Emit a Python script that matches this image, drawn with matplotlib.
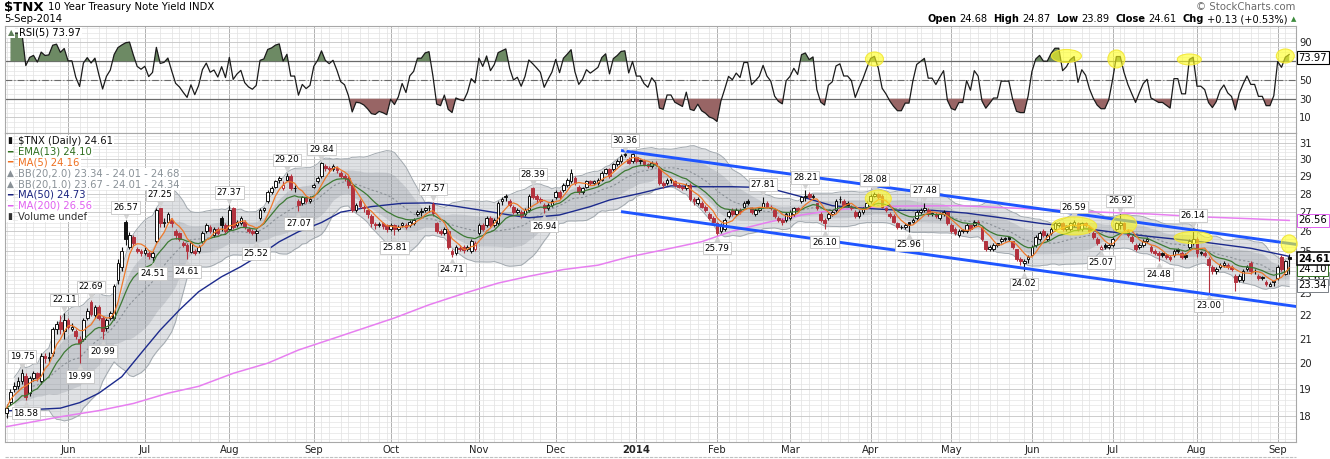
import numpy as np
import pandas as pd
import matplotlib
matplotlib.use("Agg")
import matplotlib.pyplot as plt
from matplotlib.patches import Ellipse
from matplotlib.lines import Line2D
from matplotlib.transforms import ScaledTranslation
from matplotlib.ticker import FixedLocator, FuncFormatter, NullFormatter, FixedFormatter

plt.rcParams['font.family'] = ['DejaVu Sans']

# trading days shown on the chart
holidays = ['2013-05-27', '2013-07-04', '2013-09-02', '2013-11-28', '2013-12-25',
            '2014-01-01', '2014-01-20', '2014-02-17', '2014-04-18', '2014-05-26',
            '2014-07-04', '2014-09-01']
days = pd.bdate_range('2013-05-09', '2014-09-05')
days = days[~days.isin(pd.to_datetime(holidays))]

# daily candles of $TNX (one row per month)
opens = [
    18.1, 18.5, 19.0, 19.1, 19.3, 19.5, 18.85, 19.4, 19.6, 19.3, 20.3, 20.2, 20.4, 21.4, 21.7, 21.3,
    21.8, 21.4, 21.3, 21.0, 21.0, 21.9, 22.6, 22.0, 22.35, 21.9, 21.45, 21.9, 21.9, 23.6, 24.2, 26.5, 25.2, 25.7, 25.1, 25.0,
    24.9, 24.9, 24.7, 25.5, 27.2, 26.4, 26.5, 26.6, 26.0, 25.9, 25.4, 25.3, 24.95, 25.0, 25.0, 25.5, 26.0, 26.2, 25.8, 26.1, 26.7, 26.3,
    26.1, 27.2, 26.3, 26.4, 26.5, 26.1, 26.0, 25.9, 26.7, 27.1, 27.6, 28.1, 28.4, 28.8, 28.3, 28.8, 29.0, 28.3, 27.6, 27.5, 27.8, 27.6,
    28.4, 28.7, 29.0, 29.6, 29.5, 29.4, 29.5, 29.2, 29.0, 28.9, 28.5, 27.1, 27.6, 27.3, 27.1, 26.8, 26.35, 26.3, 26.4, 26.3,
    26.1, 26.3, 26.1, 26.3, 26.3, 26.3, 26.4, 26.9, 27.0, 27.1, 27.2, 27.45, 26.4, 26.0, 25.9, 26.0, 25.0, 24.9, 25.15, 25.2, 25.1, 25.0, 25.1,
    25.9, 26.3, 26.3, 26.7, 26.3, 26.4, 27.6, 27.8, 27.6, 27.3, 27.0, 27.0, 26.9, 27.1, 28.3, 27.9, 27.7, 27.4, 27.2, 27.4,
    27.8, 28.1, 28.2, 28.5, 28.7, 28.9, 28.4, 28.1, 28.4, 28.7, 28.6, 28.6, 28.8, 29.2, 29.4, 29.4, 29.7, 29.9, 30.3, 30.0, 29.9,
    30.1, 29.9, 29.9, 29.7, 29.6, 29.8, 29.5, 28.6, 28.6, 28.8, 28.7, 28.5, 28.4, 28.3, 28.5, 27.7, 27.5, 27.5, 27.3, 26.9, 26.7,
    26.4, 26.0, 26.1, 26.8, 27.1, 26.9, 27.1, 27.3, 27.6, 27.2, 26.9, 27.1, 27.3, 27.5, 27.3, 27.1, 26.7, 26.6, 26.6,
    26.7, 26.9, 27.2, 27.6, 27.8, 28.0, 27.8, 27.5, 26.9, 26.6, 26.7, 26.9, 27.1, 27.7, 27.6, 27.5, 27.2, 27.0, 26.8, 27.0, 27.3,
    27.6, 27.9, 28.0, 27.9, 27.2, 26.9, 26.8, 26.4, 26.2, 26.2, 26.5, 26.5, 26.7, 27.0, 27.1, 27.1, 26.9, 26.9, 26.7, 26.9, 27.0,
    26.3, 26.1, 25.8, 26.0, 26.0, 26.3, 26.3, 26.5, 26.2, 25.5, 25.1, 25.1, 25.4, 25.5, 25.6, 25.7, 25.5, 25.1, 24.6, 24.4, 24.6,
    24.8, 25.3, 25.6, 26.0, 25.6, 25.9, 26.1, 26.3, 26.4, 26.1, 26.1, 26.3, 26.4, 26.1, 26.4, 26.2, 25.9, 25.6, 25.1, 25.3, 25.2,
    25.3, 26.1, 26.3, 26.4, 26.0, 25.7, 25.3, 25.2, 25.3, 25.5, 25.2, 25.0, 24.9, 24.9, 24.8, 24.7, 24.8, 25.1, 24.9, 24.8, 25.2, 25.4,
    25.6, 24.9, 24.9, 24.6, 24.2, 24.0, 24.2, 24.3, 24.3, 24.2, 23.8, 23.6, 23.6, 24.1, 24.4, 24.0, 23.8, 23.7, 23.5, 23.3, 23.5,
    23.7, 24.7, 23.9, 24.68,
]
highs = [
    18.45, 19.0, 19.25, 19.45, 19.75, 19.6, 19.5, 19.7, 19.65, 20.4, 20.4, 20.45, 21.5, 21.75, 22.0, 22.11,
    21.9, 21.65, 21.4, 21.1, 21.9, 22.3, 22.69, 22.45, 22.45, 21.95, 21.9, 22.2, 23.4, 24.6, 25.2, 26.57, 25.95, 25.8, 25.2, 25.1,
    25.2, 25.0, 25.0, 27.2, 27.25, 26.7, 27.0, 26.7, 26.1, 25.95, 25.5, 25.4, 25.5, 25.1, 25.3, 26.0, 26.4, 26.3, 26.2, 26.2, 26.8, 26.4,
    27.37, 27.3, 26.6, 26.8, 26.6, 26.2, 26.1, 26.1, 27.2, 27.3, 28.2, 28.45, 28.8, 29.0, 28.7, 29.2, 29.1, 28.5, 27.7, 27.9, 27.9, 27.9,
    28.6, 29.0, 29.84, 29.7, 29.6, 29.7, 29.6, 29.3, 29.1, 29.0, 28.6, 27.5, 27.7, 27.4, 27.2, 26.9, 26.5, 26.5, 26.5, 26.35,
    26.4, 26.35, 26.3, 26.5, 26.4, 26.6, 26.7, 27.1, 27.2, 27.3, 27.4, 27.57, 26.5, 26.1, 26.2, 26.1, 25.1, 25.3, 25.3, 25.3, 25.3, 25.6, 25.5,
    26.4, 26.4, 26.8, 26.8, 26.7, 27.6, 27.8, 28.0, 27.7, 27.4, 27.2, 27.1, 27.2, 28.0, 28.39, 28.0, 27.8, 27.5, 27.5, 27.7,
    28.2, 28.2, 28.6, 28.9, 29.4, 29.0, 28.5, 28.4, 28.8, 28.8, 28.8, 28.9, 29.3, 29.5, 29.5, 29.8, 30.0, 30.3, 30.36, 30.1, 30.35,
    30.2, 30.0, 30.0, 29.8, 29.9, 29.9, 29.6, 28.7, 28.9, 28.9, 28.8, 28.6, 28.5, 28.6, 28.6, 27.8, 27.8, 27.6, 27.4, 27.0, 26.8,
    26.5, 26.4, 26.7, 27.1, 27.2, 27.2, 27.2, 27.6, 27.7, 27.3, 27.2, 27.3, 27.81, 27.6, 27.4, 27.2, 26.8, 26.7, 27.0,
    27.1, 27.3, 27.3, 27.9, 28.21, 28.1, 28.0, 27.5, 27.0, 26.7, 27.0, 27.1, 27.7, 27.9, 27.7, 27.6, 27.4, 27.1, 27.1, 27.3, 27.6,
    28.0, 28.08, 28.05, 28.0, 27.3, 27.0, 26.9, 26.5, 26.3, 26.4, 26.5, 26.7, 27.1, 27.2, 27.48, 27.2, 27.0, 27.0, 27.0, 27.1, 27.0,
    26.4, 26.2, 26.1, 26.1, 26.4, 26.3, 26.6, 26.6, 26.2, 25.5, 25.3, 25.4, 25.4, 25.7, 25.7, 25.7, 25.5, 25.1, 24.7, 24.6, 24.8,
    25.3, 25.8, 26.0, 26.1, 25.9, 26.2, 26.5, 26.5, 26.5, 26.3, 26.5, 26.59, 26.5, 26.5, 26.5, 26.3, 26.0, 25.7, 25.3, 25.4, 25.4,
    25.7, 26.5, 26.92, 26.5, 26.1, 25.8, 25.4, 25.4, 25.6, 25.7, 25.3, 25.1, 25.0, 24.95, 24.9, 24.8, 25.1, 25.15, 25.0, 24.9, 25.6, 26.14,
    25.7, 25.0, 25.0, 24.7, 24.3, 24.2, 24.4, 24.5, 24.4, 24.3, 23.9, 23.9, 24.1, 24.3, 24.5, 24.1, 23.9, 23.8, 23.6, 23.5, 23.6,
    24.3, 24.8, 24.55, 24.87,
]
lows = [
    17.95, 18.4, 18.9, 19.0, 19.2, 18.58, 18.75, 19.3, 19.3, 19.2, 20.0, 20.05, 20.3, 21.2, 21.2, 21.0,
    21.4, 21.3, 21.0, 19.99, 20.9, 21.8, 21.95, 21.9, 21.8, 20.99, 21.3, 21.8, 21.8, 23.4, 24.0, 25.3, 25.1, 25.25, 24.9, 24.75,
    24.8, 24.6, 24.51, 25.4, 26.2, 26.2, 26.4, 26.2, 25.6, 25.5, 25.2, 24.61, 24.9, 24.8, 24.9, 25.4, 25.9, 25.9, 25.7, 25.8, 26.0, 25.9,
    26.0, 26.1, 26.2, 26.3, 26.1, 25.9, 25.8, 25.52, 26.6, 27.0, 27.5, 28.0, 28.3, 28.6, 28.2, 28.7, 28.2, 28.1, 27.07, 27.4, 27.5, 27.5,
    28.3, 28.6, 28.9, 29.3, 29.2, 29.3, 29.2, 28.9, 28.7, 28.3, 27.0, 27.0, 27.2, 27.0, 26.7, 26.2, 26.1, 26.2, 26.1, 25.95,
    26.0, 25.81, 26.0, 26.2, 26.1, 26.2, 26.3, 26.8, 26.8, 27.0, 27.0, 26.8, 25.9, 25.8, 25.8, 25.1, 24.71, 24.8, 25.0, 24.9, 25.0, 24.9, 25.0,
    25.8, 26.0, 26.2, 26.2, 26.2, 26.3, 27.4, 27.6, 27.3, 26.9, 26.9, 26.7, 26.8, 27.0, 27.7, 27.5, 27.5, 26.94, 27.1, 27.3,
    27.7, 27.7, 28.1, 28.4, 28.6, 28.5, 28.0, 28.0, 28.3, 28.5, 28.5, 28.5, 28.7, 29.1, 28.9, 29.3, 29.6, 29.8, 30.1, 29.7, 29.8,
    29.8, 29.7, 29.6, 29.5, 29.5, 29.6, 28.5, 28.3, 28.5, 28.6, 28.4, 28.3, 28.2, 28.2, 27.6, 27.4, 27.4, 27.2, 27.0, 26.6, 26.4,
    25.79, 25.9, 26.0, 26.7, 26.8, 26.8, 26.9, 27.2, 27.4, 26.9, 26.8, 27.0, 27.2, 27.2, 27.1, 26.7, 26.5, 26.3, 26.5,
    26.6, 26.8, 27.0, 27.5, 27.6, 27.7, 27.7, 27.1, 26.5, 26.10, 26.6, 26.8, 27.0, 27.5, 27.3, 27.3, 27.1, 26.7, 26.7, 26.9, 27.2,
    27.5, 27.8, 27.7, 27.2, 27.0, 26.7, 26.4, 26.1, 26.1, 26.1, 25.96, 26.4, 26.6, 26.9, 27.0, 26.8, 26.8, 26.7, 26.6, 26.8, 26.3,
    25.9, 25.8, 25.7, 25.9, 25.9, 26.0, 26.2, 26.3, 25.5, 25.0, 25.0, 25.0, 25.2, 25.4, 25.5, 25.5, 25.1, 24.5, 24.3, 24.02, 24.4,
    24.8, 25.2, 25.5, 25.7, 25.5, 25.8, 26.0, 26.2, 26.0, 26.0, 26.0, 26.2, 26.0, 26.0, 26.2, 25.9, 25.6, 25.3, 25.07, 25.1, 25.1,
    25.2, 26.0, 26.1, 26.0, 25.7, 25.4, 25.0, 25.1, 25.2, 25.4, 24.9, 24.8, 24.48, 24.7, 24.6, 24.5, 24.7, 24.9, 24.6, 24.6, 25.1, 25.3,
    24.7, 24.8, 24.7, 23.00, 23.9, 23.9, 24.1, 24.2, 24.1, 24.0, 23.1, 23.5, 23.5, 24.0, 23.9, 23.9, 23.6, 23.6, 23.3, 23.3, 23.3,
    23.6, 24.0, 23.85, 23.89,
]
closes = [
    18.3, 18.9, 19.1, 19.3, 19.6, 18.7, 19.4, 19.6, 19.4, 20.3, 20.2, 20.25, 21.4, 21.6, 21.4, 21.8,
    21.5, 21.5, 21.1, 20.8, 21.8, 22.2, 22.05, 22.35, 21.9, 21.3, 21.8, 22.1, 23.3, 24.4, 25.0, 25.6, 25.8, 25.4, 25.0, 24.9,
    25.05, 24.75, 24.9, 27.1, 26.4, 26.5, 26.9, 26.4, 25.8, 25.6, 25.3, 25.0, 25.4, 24.9, 25.2, 25.9, 26.3, 26.0, 26.1, 25.9, 26.3, 26.0,
    27.1, 26.2, 26.5, 26.7, 26.2, 26.0, 25.9, 26.0, 27.1, 27.2, 28.1, 28.3, 28.7, 28.9, 28.5, 29.0, 28.3, 28.3, 27.4, 27.8, 27.6, 27.7,
    28.5, 28.9, 29.8, 29.5, 29.4, 29.6, 29.35, 29.0, 28.9, 28.5, 27.1, 27.4, 27.35, 27.2, 26.9, 26.4, 26.3, 26.35, 26.25, 26.1,
    26.3, 26.1, 26.2, 26.4, 26.2, 26.5, 26.6, 27.0, 27.0, 27.2, 27.25, 26.95, 26.0, 25.9, 26.1, 25.2, 24.85, 25.2, 25.1, 25.05, 25.2, 25.5, 25.4,
    26.3, 26.1, 26.7, 26.3, 26.6, 27.5, 27.7, 27.9, 27.4, 27.0, 27.1, 26.8, 27.1, 27.9, 27.8, 27.7, 27.6, 27.2, 27.4, 27.6,
    28.1, 27.8, 28.5, 28.8, 29.2, 28.6, 28.1, 28.3, 28.7, 28.6, 28.7, 28.8, 29.2, 29.4, 29.0, 29.7, 29.9, 30.2, 30.25, 29.8, 30.3,
    29.9, 29.9, 29.7, 29.6, 29.8, 29.7, 28.6, 28.5, 28.8, 28.8, 28.5, 28.4, 28.3, 28.5, 27.7, 27.6, 27.7, 27.3, 27.1, 26.7, 26.5,
    25.9, 26.3, 26.6, 27.0, 26.9, 27.1, 27.0, 27.5, 27.5, 27.0, 27.1, 27.2, 27.5, 27.3, 27.2, 26.8, 26.6, 26.5, 26.9,
    27.0, 27.2, 27.1, 27.8, 27.9, 27.8, 27.9, 27.2, 26.6, 26.4, 26.9, 27.0, 27.6, 27.7, 27.4, 27.4, 27.3, 26.8, 27.0, 27.2, 27.5,
    27.9, 28.0, 27.8, 27.3, 27.1, 26.8, 26.5, 26.2, 26.2, 26.3, 26.3, 26.6, 27.0, 27.1, 27.2, 26.9, 26.9, 26.8, 26.9, 27.0, 26.4,
    26.0, 25.9, 26.0, 26.0, 26.3, 26.1, 26.5, 26.4, 25.6, 25.1, 25.2, 25.3, 25.3, 25.6, 25.6, 25.6, 25.2, 24.6, 24.5, 24.5, 24.7,
    25.2, 25.7, 25.9, 25.8, 25.8, 26.1, 26.4, 26.4, 26.1, 26.2, 26.4, 26.5, 26.1, 26.4, 26.3, 26.0, 25.7, 25.4, 25.2, 25.2, 25.3,
    25.6, 26.4, 26.4, 26.1, 25.8, 25.5, 25.1, 25.3, 25.5, 25.6, 25.0, 24.9, 24.8, 24.8, 24.7, 24.6, 25.0, 25.0, 24.7, 24.7, 25.5, 25.6,
    24.9, 24.9, 24.8, 24.3, 24.0, 24.1, 24.3, 24.4, 24.2, 24.1, 23.5, 23.8, 24.0, 24.2, 24.0, 24.0, 23.7, 23.7, 23.4, 23.4, 23.5,
    24.2, 24.1, 24.48, 24.61,
]
assert len(days) == len(opens) == len(highs) == len(lows) == len(closes), \
    (len(days), len(opens), len(highs), len(lows), len(closes))

# days (trading-day number) carrying a swing high / swing low label
swing_hi = [4, 15, 22, 31, 40, 58, 73, 82, 111, 137, 161, 197, 208, 226, 239, 278, 290, 309]
swing_lo = [5, 19, 25, 38, 47, 65, 76, 101, 116, 140, 185, 213, 235, 265, 285, 300, 313]

# MA(50) and MA(200) (day number, value)
ma50_day = [0, 14, 19, 24, 30, 35, 40, 45, 50, 56, 61, 66, 71, 76, 82, 87, 95, 103, 110, 116,
            123, 131, 136, 144, 152, 157, 165, 173, 181, 189, 198, 207, 215, 224, 233, 241,
            250, 259, 269, 280, 290, 298, 311, 324, 334]
ma50_val = [18.19, 18.29, 18.49, 18.84, 19.47, 20.4, 21.36, 22.23, 23.05, 23.75, 24.23, 24.8,
            25.46, 25.97, 26.45, 27.0, 27.3, 27.48, 27.5, 27.35, 27.12, 26.85, 26.7, 26.85,
            27.3, 27.66, 28.03, 28.45, 28.4, 28.4, 28.35, 27.84, 27.35, 27.2, 27.1, 27.1,
            26.95, 26.7, 26.41, 26.16, 25.9, 25.72, 25.46, 25.13, 24.73]
ma200_day = [0, 14, 24, 33, 42, 50, 59, 68, 76, 84, 101, 110, 119, 128, 136, 145, 154, 162,
             171, 181, 189, 198, 207, 215, 224, 233, 248, 259, 285, 298, 311, 324, 334]
ma200_val = [17.63, 17.98, 18.2, 18.46, 18.84, 19.1, 19.6, 20.0, 20.53, 20.95, 21.88, 22.46,
             22.97, 23.45, 23.77, 24.09, 24.3, 24.7, 25.05, 25.46, 26.0, 26.45, 26.85, 27.1,
             27.26, 27.33, 27.35, 27.25, 27.0, 26.9, 26.75, 26.65, 26.56]

# hand-drawn falling channel
chan_day = [160, 336]
chan_top = [30.52, 25.32]
chan_bot = [27.03, 22.38]

# yellow highlights (day number, value)
hl_price_day = [227, 278, 291, 309, 334]
hl_price_val = [27.74, 26.27, 26.37, 25.67, 25.35]
hl_rsi_day = [226, 276, 289, 308, 333]
hl_rsi_val = [72.4, 75.6, 72.4, 71.9, 75.6]

legend_rows = ["$TNX (Daily) 24.61", "EMA(13) 24.10", "MA(5) 24.16",
               "BB(20,2.0) 23.34 - 24.01 - 24.68", "BB(20,1.0) 23.67 - 24.01 - 24.34",
               "MA(50) 24.73", "MA(200) 26.56", "Volume undef"]
price_tags = [23.67, 23.34, 24.10, 26.56, 24.61]
rsi_last = 73.97
quote_names = ["Open", "High", "Low", "Close", "Chg"]
quote_values = ["24.68", "24.87", "23.89", "24.61", "+0.13 (+0.53%)"]

# ---------------------------------------------------------------- indicators
x = np.arange(len(days))
o, h, l, c = (np.array(v, float) for v in (opens, highs, lows, closes))
cs = pd.Series(c)
ema13 = cs.ewm(span=13, adjust=False).mean()
ma5 = cs.rolling(5, min_periods=1).mean()
mid = cs.rolling(20, min_periods=3).mean()
sd = cs.rolling(20, min_periods=3).std(ddof=0)
d = cs.diff()
up = d.clip(lower=0).ewm(alpha=1 / 5, adjust=False).mean()
dn = (-d.clip(upper=0)).ewm(alpha=1 / 5, adjust=False).mean()
rsi = (100 - 100 / (1 + up / dn)).values

# ---------------------------------------------------------------- layout
W, H = 1330, 459
fig = plt.figure(figsize=(W / 100, H / 100), dpi=100)
fx = lambda px: px / W
fy = lambda py: 1 - py / H
ax_r = fig.add_axes([fx(5), fy(133), fx(1295.7) - fx(5), fy(26) - fy(133)])
ax_p = fig.add_axes([fx(5), fy(441.7), fx(1295.7) - fx(5), fy(133) - fy(441.7)])

month_starts = [i for i in range(1, len(days)) if days[i].month != days[i - 1].month]
minor_days = [i for i in range(len(days)) if days[i].dayofweek in (0, 3)]

ax_p.set_yscale('log')
ax_p.set_ylim(17.11, 31.6)
ax_p.yaxis.set_major_locator(FixedLocator(list(range(17, 32))))
ax_p.yaxis.set_major_formatter(FuncFormatter(lambda v, p: f"{v:.0f}"))
ax_p.yaxis.set_minor_locator(FixedLocator(np.arange(17, 31.7, 0.2)))
ax_p.yaxis.set_minor_formatter(NullFormatter())

ax_r.set_ylim(-6.6, 107.6)
ax_r.yaxis.set_major_locator(FixedLocator([10, 30, 50, 70, 90]))
ax_r.yaxis.set_minor_locator(FixedLocator(np.arange(0, 106, 5)))

for ax in (ax_r, ax_p):
    ax.set_xlim(-0.42, 335.7)
    ax.xaxis.set_major_locator(FixedLocator(month_starts))
    ax.xaxis.set_minor_locator(FixedLocator(minor_days))
    ax.grid(which='major', axis='x', color='#b0b0b0', lw=0.7)
    ax.grid(which='minor', axis='x', color='#e0e0e0', lw=0.5)
    ax.grid(which='major', axis='y', color='#c4c4c4', lw=0.6)
    ax.grid(which='minor', axis='y', color='#e4e4e4', lw=0.5)
    ax.set_axisbelow(True)
    ax.yaxis.tick_right()
    ax.tick_params(which='both', length=0, labelsize=7.2, pad=2.5, colors='#222222')
    for s in ax.spines.values():
        s.set_color('#a8a8a8')
        s.set_linewidth(0.8)

ax_r.tick_params(labelbottom=False)
mlabels = ['2014' if days[i].month == 1 else days[i].strftime('%b') for i in month_starts]
ax_p.xaxis.set_major_formatter(FixedFormatter(mlabels))
for t, s in zip(ax_p.get_xticklabels(), mlabels):
    if s == '2014':
        t.set_fontweight('bold')

# ---------------------------------------------------------------- RSI panel
ax_r.axhline(70, color='#6a6a6a', lw=0.9, zorder=1.5)
ax_r.axhline(30, color='#6a6a6a', lw=0.9, zorder=1.5)
ax_r.axhline(50, color='#6a6a6a', lw=0.8, ls=(0, (6, 2, 1, 2)), zorder=1.5)
ax_r.fill_between(x, rsi, 70, where=rsi >= 70, interpolate=True, color='#6d8a64', lw=0, zorder=2)
ax_r.fill_between(x, rsi, 30, where=rsi <= 30, interpolate=True, color='#986565', lw=0, zorder=2)
ax_r.plot(x, rsi, color='#1a1a1a', lw=0.9, zorder=3)

# ---------------------------------------------------------------- price panel
ax_p.fill_between(x, mid - 2 * sd, mid + 2 * sd, color=(0.55, 0.58, 0.62, 0.28), lw=0, zorder=1)
ax_p.plot(x, mid + 2 * sd, color='#a3aab0', lw=0.7, zorder=1.1)
ax_p.plot(x, mid - 2 * sd, color='#a3aab0', lw=0.7, zorder=1.1)
ax_p.fill_between(x, mid - sd, mid + sd, color=(0.5, 0.53, 0.57, 0.25), lw=0, zorder=1.2)
ax_p.plot(x, mid, color='#8a9096', lw=0.8, ls=(0, (2, 2)), zorder=1.3)
ax_p.plot(ma200_day, ma200_val, color='#e77ff0', lw=1.1, zorder=2)
ax_p.plot(ma50_day, ma50_val, color='#1c2a8c', lw=1.0, zorder=2)

prev = np.r_[c[0], c[:-1]]
col = np.where(c < prev, '#b3323e', '#111111')
face = np.where(c > o, 'white', col)
ax_p.vlines(x, l, h, colors=col, lw=0.8, zorder=5)
ax_p.bar(x, np.maximum(np.abs(c - o), 0.04), bottom=np.minimum(o, c), width=0.7,
         color=face, edgecolor=col, lw=0.7, zorder=6)

ax_p.plot(x, ema13, color='#3d7a34', lw=0.9, zorder=7)
ax_p.plot(x, ma5, color='#ef7a2c', lw=0.9, zorder=7)
ax_p.plot(chan_day, chan_top, color='#1f55ff', lw=2.1, zorder=8, solid_capstyle='butt')
ax_p.plot(chan_day, chan_bot, color='#1f55ff', lw=2.1, zorder=8, solid_capstyle='butt')

box = dict(boxstyle='square,pad=0.2', fc='white', ec='#c4c4c4', lw=0.6)
up_off = ScaledTranslation(0, 3.5 / 72, fig.dpi_scale_trans)
dn_off = ScaledTranslation(0, -3.5 / 72, fig.dpi_scale_trans)
for i in swing_hi:
    ax_p.plot([i], [h[i]], marker='v', ms=4, color='#d2d2d2', zorder=9,
              transform=ax_p.transData + up_off)
    ax_p.annotate(f"{h[i]:.2f}", (i, h[i]), xytext=(0, 6), textcoords='offset points',
                  ha='center', va='bottom', fontsize=6.3, bbox=box, zorder=10)
for i in swing_lo:
    ax_p.plot([i], [l[i]], marker='^', ms=4, color='#d2d2d2', zorder=9,
              transform=ax_p.transData + dn_off)
    ax_p.annotate(f"{l[i]:.2f}", (i, l[i]), xytext=(0, -6), textcoords='offset points',
                  ha='center', va='top', fontsize=6.3, bbox=box, zorder=10)

# yellow highlight blobs (sizes in pixels)
price_blob_px = [(26, 17), (45, 18), (25, 18), (38, 12), (16, 18)]
rsi_blob_px = [(18, 14), (30, 13), (17, 18), (24, 11), (18, 14)]
def blob(ax, xd, yd, wpx, hpx):
    tr = fig.dpi_scale_trans + ScaledTranslation(xd, yd, ax.transData)
    ax.add_patch(Ellipse((0, 0), wpx / 100, hpx / 100, transform=tr, fc=(1, 1, 0.1, 0.6),
                         ec=(0.95, 0.9, 0.2, 0.9), lw=0.8, zorder=9, clip_on=False))
for xd, yd, (w, hh) in zip(hl_price_day, hl_price_val, price_blob_px):
    blob(ax_p, xd, yd, w, hh)
for xd, yd, (w, hh) in zip(hl_rsi_day, hl_rsi_val, rsi_blob_px):
    blob(ax_r, xd, yd, w, hh)

# value tags on the right edge (they sit on top of the tick labels, as in StockCharts)
tag_edge = ['#9aa0a6', '#7a8086', '#2f6f1f', '#e060f0', 'black']
for v, ec in zip(price_tags, tag_edge):
    ax_p.annotate(f"{v:.2f}", (1, v), xycoords=('axes fraction', 'data'), xytext=(2, 0),
                  textcoords='offset points', ha='left', va='center', fontsize=7.2,
                  fontweight='bold' if ec == 'black' else 'normal', annotation_clip=False,
                  bbox=dict(boxstyle='square,pad=0.15', fc='white', ec=ec,
                            lw=1.1 if ec == 'black' else 0.7), zorder=12)
ax_r.annotate(f"{rsi_last:.2f}", (1, rsi_last), xycoords=('axes fraction', 'data'), xytext=(2, 0),
              textcoords='offset points', ha='left', va='center', fontsize=7.2,
              annotation_clip=False,
              bbox=dict(boxstyle='square,pad=0.15', fc='white', ec='black', lw=0.8), zorder=12)

# ---------------------------------------------------------------- texts
fig.canvas.draw()
rend = fig.canvas.get_renderer()

t = fig.text(fx(4), fy(7.5), "$TNX", fontsize=9.5, fontweight='bold', va='center')
fig.text(fx(t.get_window_extent(rend).x1 + 4), fy(7.5), "10 Year Treasury Note Yield INDX",
         fontsize=7.3, va='center')
fig.text(fx(4), fy(19.5), "5-Sep-2014", fontsize=7.3, va='center')
fig.text(fx(1295), fy(6.5), "\u00a9 StockCharts.com", fontsize=7.3, color='#6a6a6a',
         ha='right', va='center')

# quote line, laid out left to right then shifted so it ends at the plot edge
pieces = []
px = 0
for name, val in zip(quote_names, quote_values):
    for s, wt, gap in ((name, 'bold', 3), (val, 'normal', 6)):
        t = fig.text(fx(px), fy(19), s, fontsize=7.1, fontweight=wt, va='center')
        pieces.append(t)
        px = t.get_window_extent(rend).x1 + gap
tri = fig.text(fx(px - 3), fy(19), "\u25b2", fontsize=5, color='#3b8a3b', va='center')
pieces.append(tri)
shift = 1296 - tri.get_window_extent(rend).x1
for t in pieces:
    xx, yy = t.get_position()
    t.set_position((xx + shift / W, yy))

fig.text(fx(8), fy(32.5), "\u25b2", fontsize=6, color='#5f7f5a', va='center',
         bbox=dict(fc='white', ec='none', pad=0.6))
fig.text(fx(19), fy(32.5), "RSI(5) 73.97", fontsize=7.2, va='center',
         bbox=dict(fc='white', ec='none', pad=0.6))

leg_colors = ['#111111', '#2f6f1f', '#ef7020', '#8a9298', '#8a9298', '#1a237e', '#e060f0', '#333333']
leg_icons = ['\u25ae', '\u2501', '\u2501', '\u25b2', '\u25b2', '\u2501', '\u2501', '\u25ae']
for k, (txt, cl, ic) in enumerate(zip(legend_rows, leg_colors, leg_icons)):
    yy = fy(140.7 + 10.85 * k)
    fig.text(fx(7), yy, ic, fontsize=6.5, color=cl, va='center',
             bbox=dict(fc='white', ec='none', pad=0.5))
    fig.text(fx(18.5), yy, txt, fontsize=7.2, color=cl, va='center',
             bbox=dict(fc='white', ec='none', pad=0.5))

fig.add_artist(Line2D([fx(5), fx(1295.7)], [fy(456.5)] * 2, color='#c0c0c0', lw=0.8,
                      ls=(0, (3, 1))))

fig.savefig("out.png", dpi=100, facecolor='white')
